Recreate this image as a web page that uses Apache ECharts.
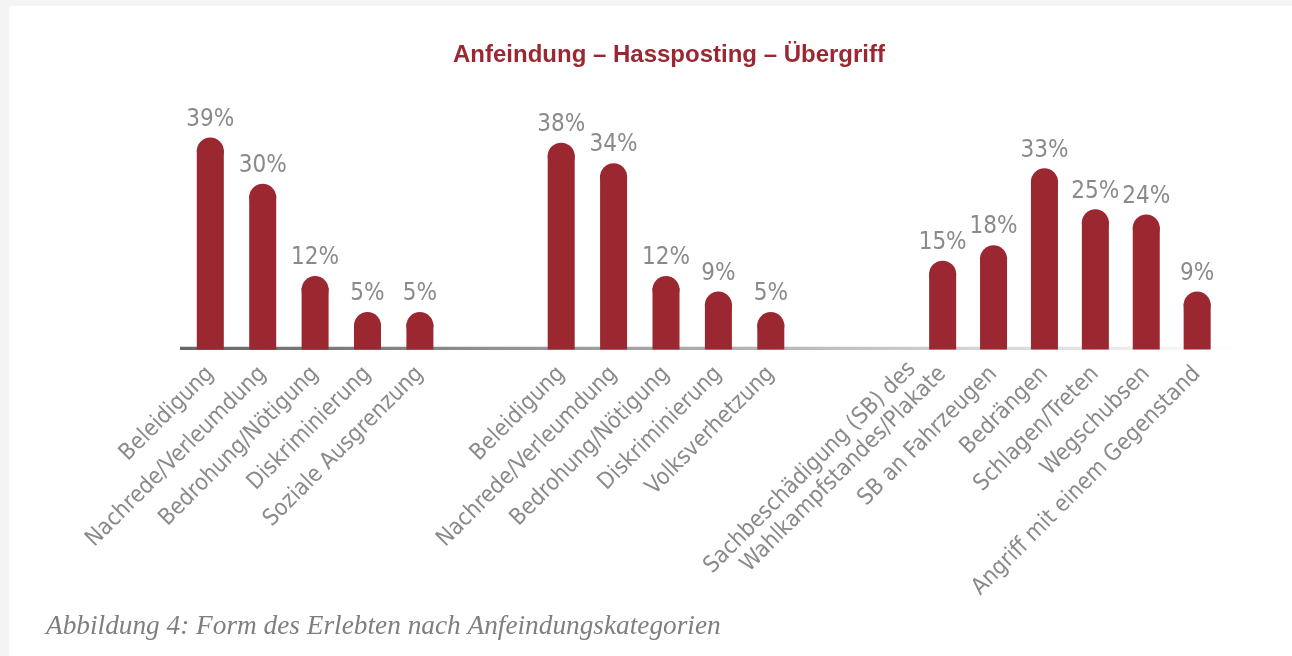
<!DOCTYPE html>
<html>
<head>
<meta charset="utf-8">
<script src="https://cdn.jsdelivr.net/npm/echarts@6/dist/echarts.min.js"></script>
<style>
html,body{margin:0;padding:0;background:#fff;}
#chart{width:1292px;height:656px;}
</style>
</head>
<body>
<div id="chart"></div>
<script>
const titleText = 'Anfeindung – Hassposting – Übergriff';
const captionText = 'Abbildung 4: Form des Erlebten nach Anfeindungskategorien';

const cats1 = ['Beleidigung', 'Nachrede/Verleumdung', 'Bedrohung/Nötigung', 'Diskriminierung', 'Soziale Ausgrenzung'];
const vals1 = [39, 30, 12, 5, 5];

const cats2 = ['Beleidigung', 'Nachrede/Verleumdung', 'Bedrohung/Nötigung', 'Diskriminierung', 'Volksverhetzung'];
const vals2 = [38, 34, 12, 9, 5];

const cats3 = ['Sachbeschädigung (SB) des\nWahlkampfstandes/Plakate', 'SB an Fahrzeugen', 'Bedrängen', 'Schlagen/Treten', 'Wegschubsen', 'Angriff mit einem Gegenstand'];
const vals3 = [15, 18, 33, 25, 24, 9];

const RED = '#9b2731';
const GRAY = '#8a8a8a';
const FONT = "'DejaVu Sans Condensed', 'Roboto Condensed', Roboto, sans-serif";

const groups = [
  { cats: cats1, vals: vals1, left: 184.1, width: 262 },
  { cats: cats2, vals: vals2, left: 535, width: 262 },
  { cats: cats3, vals: vals3, left: 917.2, width: 305.4 }
];

const GRID_TOP = 93;
const GRID_H = 256.5;

// multi-line labels: keep the last line at the normal label position
function labelFormatter(v) {
  if (v.indexOf('\n') < 0) return v;
  const parts = v.split('\n');
  return '{l1|' + parts[0] + '}\n{l2|' + parts[1] + '}\n{l2| }';
}

const grid = [], xAxis = [], yAxis = [], series = [];
groups.forEach((g, i) => {
  grid.push({ left: g.left, width: g.width, top: GRID_TOP, height: GRID_H, containLabel: false });
  xAxis.push({
    type: 'category', gridIndex: i, data: g.cats,
    axisLine: { show: false }, axisTick: { show: false },
    axisLabel: {
      interval: 0, rotate: 45, margin: 21,
      color: GRAY, fontFamily: FONT, fontSize: 23, lineHeight: 25,
      formatter: labelFormatter,
      rich: {
        l1: { color: GRAY, fontFamily: FONT, fontSize: 23, lineHeight: 25, padding: [0, 18, 0, 0] },
        l2: { color: GRAY, fontFamily: FONT, fontSize: 23, lineHeight: 25 }
      }
    }
  });
  yAxis.push({ type: 'value', gridIndex: i, min: 0, max: 50, show: false, splitLine: { show: false } });
  series.push({
    type: 'bar', xAxisIndex: i, yAxisIndex: i, data: g.vals,
    barWidth: 27, itemStyle: { color: RED }, z: 3, silent: true
  });
  series.push({
    type: 'scatter', xAxisIndex: i, yAxisIndex: i, data: g.vals,
    symbol: 'circle', symbolSize: 27, symbolOffset: [0, 1.6],
    itemStyle: { color: RED, opacity: 1 }, z: 3, silent: true,
    label: {
      show: true, position: 'top', distance: 6,
      formatter: p => p.value + '%',
      color: GRAY, fontFamily: FONT, fontSize: 24
    }
  });
});

const chart = echarts.init(document.getElementById('chart'), null, { renderer: 'canvas' });
chart.setOption({
  backgroundColor: '#ffffff',
  animation: false,
  title: [
    {
      text: titleText, left: 448, top: 38,
      textStyle: { color: RED, fontFamily: "'Liberation Sans', Arial, sans-serif", fontWeight: 'bold', fontSize: 24 }
    },
    {
      text: captionText, left: 41, top: 608,
      textStyle: { color: '#7f7f7f', fontFamily: "'Liberation Serif', serif", fontStyle: 'italic', fontWeight: 'normal', fontSize: 27.3 }
    }
  ],
  graphic: [
    { type: 'rect', left: 0, top: 0, shape: { width: 1292, height: 6 }, style: { fill: '#f4f4f4' }, z: 0 },
    { type: 'rect', left: 0, top: 0, shape: { width: 9, height: 656 }, style: { fill: '#f4f4f4' }, z: 0 },
    {
      type: 'line', z: 0,
      shape: { x1: 180, y1: 348.3, x2: 1240, y2: 348.3 },
      style: {
        lineWidth: 3.3,
        stroke: new echarts.graphic.LinearGradient(0, 0, 1, 0, [
          { offset: 0, color: '#666666' },
          { offset: 0.45, color: '#a6a6a6' },
          { offset: 0.72, color: '#cfcfcf' },
          { offset: 1, color: '#ffffff' }
        ])
      }
    }
  ],
  grid, xAxis, yAxis, series
});
</script>
</body>
</html>
